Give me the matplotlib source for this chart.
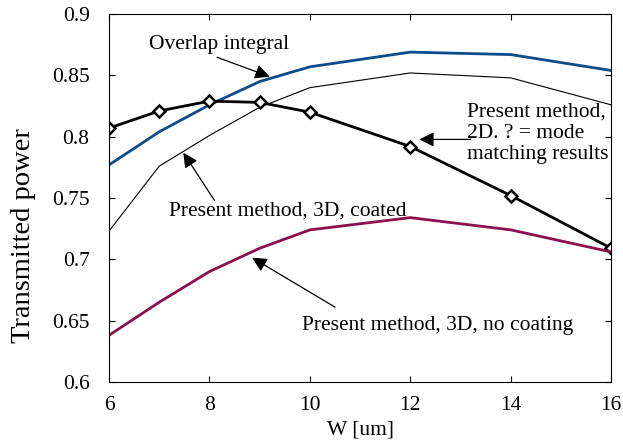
import matplotlib
matplotlib.use("Agg")
import matplotlib.pyplot as plt

# W values [um]
w = [6, 7, 8, 9, 10, 12, 14, 16]

# series
overlap = [0.777, 0.804, 0.826, 0.845, 0.857, 0.869, 0.867, 0.854]
coated_3d = [0.723, 0.776, 0.801, 0.824, 0.840, 0.852, 0.848, 0.826]
method_2d = [0.807, 0.821, 0.829, 0.828, 0.820, 0.792, 0.752, 0.709]
no_coat_3d = [0.638, 0.665, 0.690, 0.709, 0.724, 0.734, 0.724, 0.706]

x_ticks = [6, 8, 10, 12, 14, 16]
y_ticks = [0.6, 0.65, 0.7, 0.75, 0.8, 0.85, 0.9]
y_tick_labels = ["0.6", "0.65", "0.7", "0.75", "0.8", "0.85", "0.9"]

plt.rcParams['font.family'] = ['Liberation Serif', 'DejaVu Serif']
fs = 15.5

fig = plt.figure(figsize=(6.23, 4.41), dpi=100)
ax = fig.add_axes([0.175, 0.134, 0.806, 0.834])

ax.plot(w, overlap, color='#0b4c8c', linewidth=2)
ax.plot(w, coated_3d, color='black', linewidth=0.8)
ax.plot(w, method_2d, color='black', linewidth=2, marker='D', markersize=6,
        markerfacecolor='white', markeredgecolor='black', markeredgewidth=1.8)
ax.plot(w, no_coat_3d, color='#8a0f4c', linewidth=2)

ax.set_xlim(6, 16)
ax.set_ylim(0.6, 0.9)
ax.set_xticks(x_ticks)
ax.set_yticks(y_ticks)
ax.set_yticklabels(y_tick_labels)
ax.tick_params(direction='in', top=True, right=True, length=4, labelsize=fs)
ax.tick_params(axis='y', pad=14)
ax.tick_params(axis='x', pad=10)
ax.set_xlabel("W [um]", fontsize=fs, labelpad=4)
ax.set_ylabel("Transmitted power", fontsize=20.5)
ax.yaxis.set_label_coords(-0.145, 0.398)

arrow = dict(arrowstyle='-|>', color='black', lw=0.9, mutation_scale=22,
             shrinkA=0, shrinkB=0)

ax.text(8.2, 0.8755, "Overlap integral", ha='center', va='center', fontsize=fs)
ax.annotate("", xy=(9.2, 0.849), xytext=(8.15, 0.8648), arrowprops=arrow)

ax.text(9.55, 0.7395, "Present method, 3D, coated", ha='center', va='center', fontsize=fs)
ax.annotate("", xy=(7.48, 0.787), xytext=(8.1, 0.748), arrowprops=arrow)

ax.text(13.13, 0.8027, "Present method,\n2D. ? = mode\nmatching results",
        ha='left', va='center', fontsize=fs, linespacing=1.15)
ax.annotate("", xy=(12.18, 0.7978), xytext=(13.2, 0.7978), arrowprops=arrow)

ax.text(12.55, 0.6457, "Present method, 3D, no coating", ha='center', va='center', fontsize=fs)
ax.annotate("", xy=(8.85, 0.7013), xytext=(10.5, 0.661), arrowprops=arrow)

fig.savefig("out.png", dpi=100)
